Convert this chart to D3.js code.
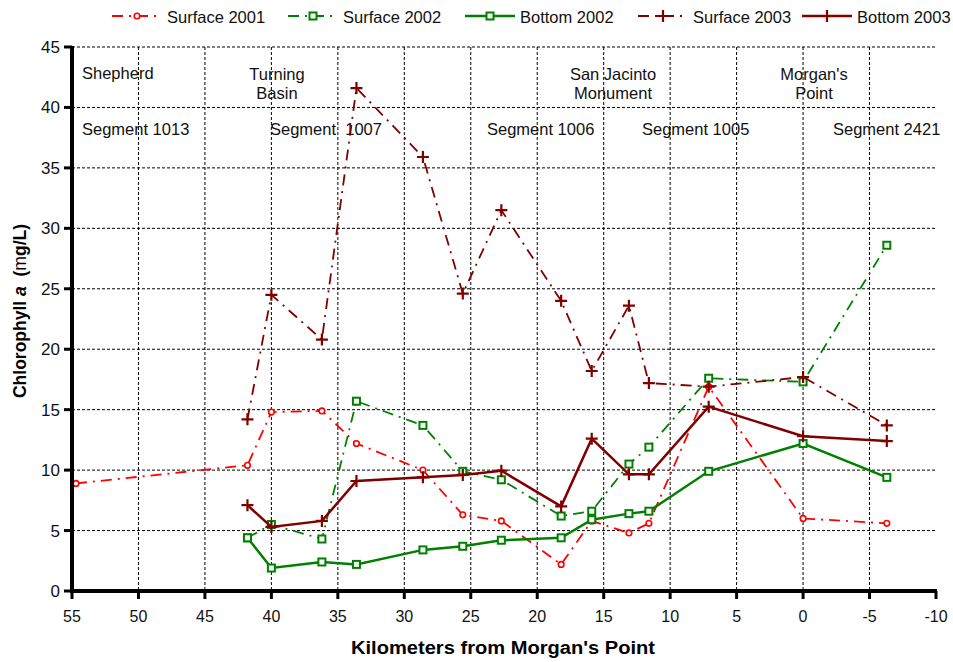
<!DOCTYPE html>
<html>
<head>
<meta charset="utf-8">
<script src="https://cdn.jsdelivr.net/npm/d3@7"></script>
<style>
  html, body { margin: 0; padding: 0; background: #fff; }
  svg { display: block; font-family: "Liberation Sans", Arial, sans-serif; }
</style>
</head>
<body>
<div id="chart"></div>
<script>
// ── Data ──────────────────────────────────────────────────────────────────
const km2001 = [54.7, 41.8, 40.0, 36.2, 33.6, 28.6, 25.6, 22.7, 18.2, 15.9, 13.1, 11.6, 7.1, 0, -6.3]
const kmStations = [41.8, 40.0, 36.2, 33.6, 28.6, 25.6, 22.7, 18.2, 15.9, 13.1, 11.6, 7.1, 0, -6.3]

const surface2001 = [8.9, 10.4, 14.8, 14.9, 12.2, 10.0, 6.3, 5.8, 2.2, 5.8, 4.8, 5.6, 16.9, 6.0, 5.6]
const surface2002 = [4.4, 5.5, 4.3, 15.7, 13.7, 9.9, 9.2, 6.2, 6.6, 10.5, 11.9, 17.6, 17.3, 28.6]
const bottom2002 = [4.4, 1.9, 2.4, 2.2, 3.4, 3.7, 4.2, 4.4, 5.9, 6.4, 6.6, 9.9, 12.2, 9.4]
const surface2003 = [14.2, 24.5, 20.8, 41.6, 35.9, 24.6, 31.5, 24.0, 18.2, 23.6, 17.2, 16.9, 17.7, 13.7]
const bottom2003 = [7.1, 5.3, 5.8, 9.1, 9.4, 9.6, 9.95, 7.0, 12.6, 9.65, 9.65, 15.25, 12.8, 12.4]

const xTicks = [55, 50, 45, 40, 35, 30, 25, 20, 15, 10, 5, 0, -5, -10]
const yTicks = [0, 5, 10, 15, 20, 25, 30, 35, 40, 45]

const seriesNames = ['Surface 2001', 'Surface 2002', 'Bottom 2002', 'Surface 2003', 'Bottom 2003']

// ── Layout ────────────────────────────────────────────────────────────────
const W = 953, H = 662
const pl = 72, pr = 936, pt = 47, pb = 591

const svg = d3.select('#chart').append('svg').attr('width', W).attr('height', H)

const x = d3.scaleLinear().domain([55, -10]).range([pl, pr])
const y = d3.scaleLinear().domain([0, 45]).range([pb, pt])

// grid
const grid = svg.append('g')
grid.selectAll('line.h').data(yTicks.filter(d => d > 0)).join('line')
  .attr('x1', pl).attr('x2', pr).attr('y1', d => y(d)).attr('y2', d => y(d))
  .attr('stroke', '#000').attr('stroke-width', 1).attr('stroke-dasharray', '3,2')
grid.append('g').selectAll('line').data(xTicks.filter(d => d < 55 && d > -10)).join('line')
  .attr('y1', pt).attr('y2', pb).attr('x1', d => x(d)).attr('x2', d => x(d))
  .attr('stroke', '#000').attr('stroke-width', 1).attr('stroke-dasharray', '3,2')

// annotations
const notes = [
  { t: 'Shepherd', x: 82, y: 79, a: 'start' },
  { t: 'Turning', x: 277, y: 80, a: 'middle' },
  { t: 'Basin', x: 277, y: 99, a: 'middle' },
  { t: 'San Jacinto', x: 613, y: 80, a: 'middle' },
  { t: 'Monument', x: 613, y: 99, a: 'middle' },
  { t: "Morgan's", x: 814, y: 80, a: 'middle' },
  { t: 'Point', x: 814, y: 99, a: 'middle' },
  { t: 'Segment 1013', x: 82, y: 135, a: 'start' },
  { t: 'Segment  1007', x: 270, y: 135, a: 'start' },
  { t: 'Segment 1006', x: 487, y: 135, a: 'start' },
  { t: 'Segment 1005', x: 642, y: 135, a: 'start' },
  { t: 'Segment 2421', x: 833, y: 135, a: 'start' },
]
svg.append('g').selectAll('text').data(notes).join('text')
  .attr('x', d => d.x).attr('y', d => d.y).attr('text-anchor', d => d.a)
  .style('font-size', '16.5px').style('white-space', 'pre').attr('fill', '#111').text(d => d.t)

// ── Series ────────────────────────────────────────────────────────────────
const series = [
  { name: seriesNames[0], km: km2001, v: surface2001, color: '#ff0000', dash: '11,6,2,6', w: 1.8, mk: 'circle' },
  { name: seriesNames[1], km: kmStations, v: surface2002, color: '#008000', dash: '11,6,2,6', w: 1.8, mk: 'square' },
  { name: seriesNames[2], km: kmStations, v: bottom2002, color: '#008000', dash: null, w: 2.5, mk: 'square' },
  { name: seriesNames[3], km: kmStations, v: surface2003, color: '#800000', dash: '11,6,2,6', w: 1.8, mk: 'plus' },
  { name: seriesNames[4], km: kmStations, v: bottom2003, color: '#800000', dash: null, w: 2.5, mk: 'plus' },
]

const line = d3.line().x(d => x(d[0])).y(d => y(d[1]))

function drawMarker(g, type, color) {
  if (type === 'circle') {
    g.append('circle').attr('r', 2.8).attr('fill', '#fff').attr('stroke', color).attr('stroke-width', 1.6)
  } else if (type === 'square') {
    g.append('rect').attr('x', -3.5).attr('y', -3.5).attr('width', 7).attr('height', 7)
      .attr('fill', '#fff').attr('stroke', color).attr('stroke-width', 2)
  } else {
    g.append('path').attr('d', 'M-6,0H6M0,-6V6').attr('stroke', color).attr('stroke-width', 2.2)
  }
}

series.forEach(s => {
  const pts = s.km.map((k, i) => [k, s.v[i]])
  svg.append('path').datum(pts).attr('d', line).attr('fill', 'none')
    .attr('stroke', s.color).attr('stroke-width', s.w)
    .attr('stroke-dasharray', s.dash)
  svg.append('g').selectAll('g').data(pts).join('g')
    .attr('transform', d => `translate(${x(d[0])},${y(d[1])})`)
    .each(function () { drawMarker(d3.select(this), s.mk, s.color) })
})

// ── Axes ──────────────────────────────────────────────────────────────────
const axisG = svg.append('g')
axisG.append('line').attr('x1', pl).attr('x2', pl).attr('y1', pt - 1).attr('y2', pb + 2)
  .attr('stroke', '#000').attr('stroke-width', 4)
axisG.append('line').attr('x1', pl - 2).attr('x2', pr + 1).attr('y1', pb).attr('y2', pb)
  .attr('stroke', '#000').attr('stroke-width', 4)

axisG.append('g').selectAll('line').data(yTicks).join('line')
  .attr('x1', pl - 8).attr('x2', pl).attr('y1', d => y(d)).attr('y2', d => y(d))
  .attr('stroke', '#000').attr('stroke-width', 3)
axisG.append('g').selectAll('text').data(yTicks).join('text')
  .attr('x', pl - 12).attr('y', d => y(d) + 6).attr('text-anchor', 'end')
  .style('font-size', '17px').attr('fill', '#111').text(d => d)

axisG.append('g').selectAll('line').data(xTicks).join('line')
  .attr('x1', d => x(d)).attr('x2', d => x(d)).attr('y1', pb).attr('y2', pb + 8)
  .attr('stroke', '#000').attr('stroke-width', 3)
axisG.append('g').selectAll('text').data(xTicks).join('text')
  .attr('x', d => x(d)).attr('y', 622).attr('text-anchor', 'middle')
  .style('font-size', '16px').attr('fill', '#111').text(d => d)

// titles
svg.append('text').attr('x', 503).attr('y', 654).attr('text-anchor', 'middle')
  .style('font-size', '18px').style('font-weight', 'bold')
  .attr('textLength', 304).attr('lengthAdjust', 'spacingAndGlyphs')
  .text("Kilometers from Morgan's Point")

const yt = svg.append('text').attr('transform', 'translate(26,311) rotate(-90)')
  .attr('text-anchor', 'middle').style('font-size', '17.5px').style('font-weight', 'bold')
  .style('white-space', 'pre')
yt.append('tspan').text('Chlorophyll ')
yt.append('tspan').style('font-style', 'italic').text('a')
yt.append('tspan').text('  (')
yt.append('tspan').style('font-weight', 'normal').text('m')
yt.append('tspan').text('g/L)')

// ── Legend ────────────────────────────────────────────────────────────────
const legX = [112, 288, 465, 638, 802]
const leg = svg.append('g')
series.forEach((s, i) => {
  const g = leg.append('g').attr('transform', `translate(${legX[i]},16)`)
  g.append('line').attr('x1', 0).attr('x2', 50).attr('y1', 0).attr('y2', 0)
    .attr('stroke', s.color).attr('stroke-width', s.w).attr('stroke-dasharray', s.dash)
  drawMarker(g.append('g').attr('transform', 'translate(25,0)'), s.mk, s.color)
  g.append('text').attr('x', 55).attr('y', 7).style('font-size', '16.5px').attr('fill', '#111').text(s.name)
})
</script>
</body>
</html>
